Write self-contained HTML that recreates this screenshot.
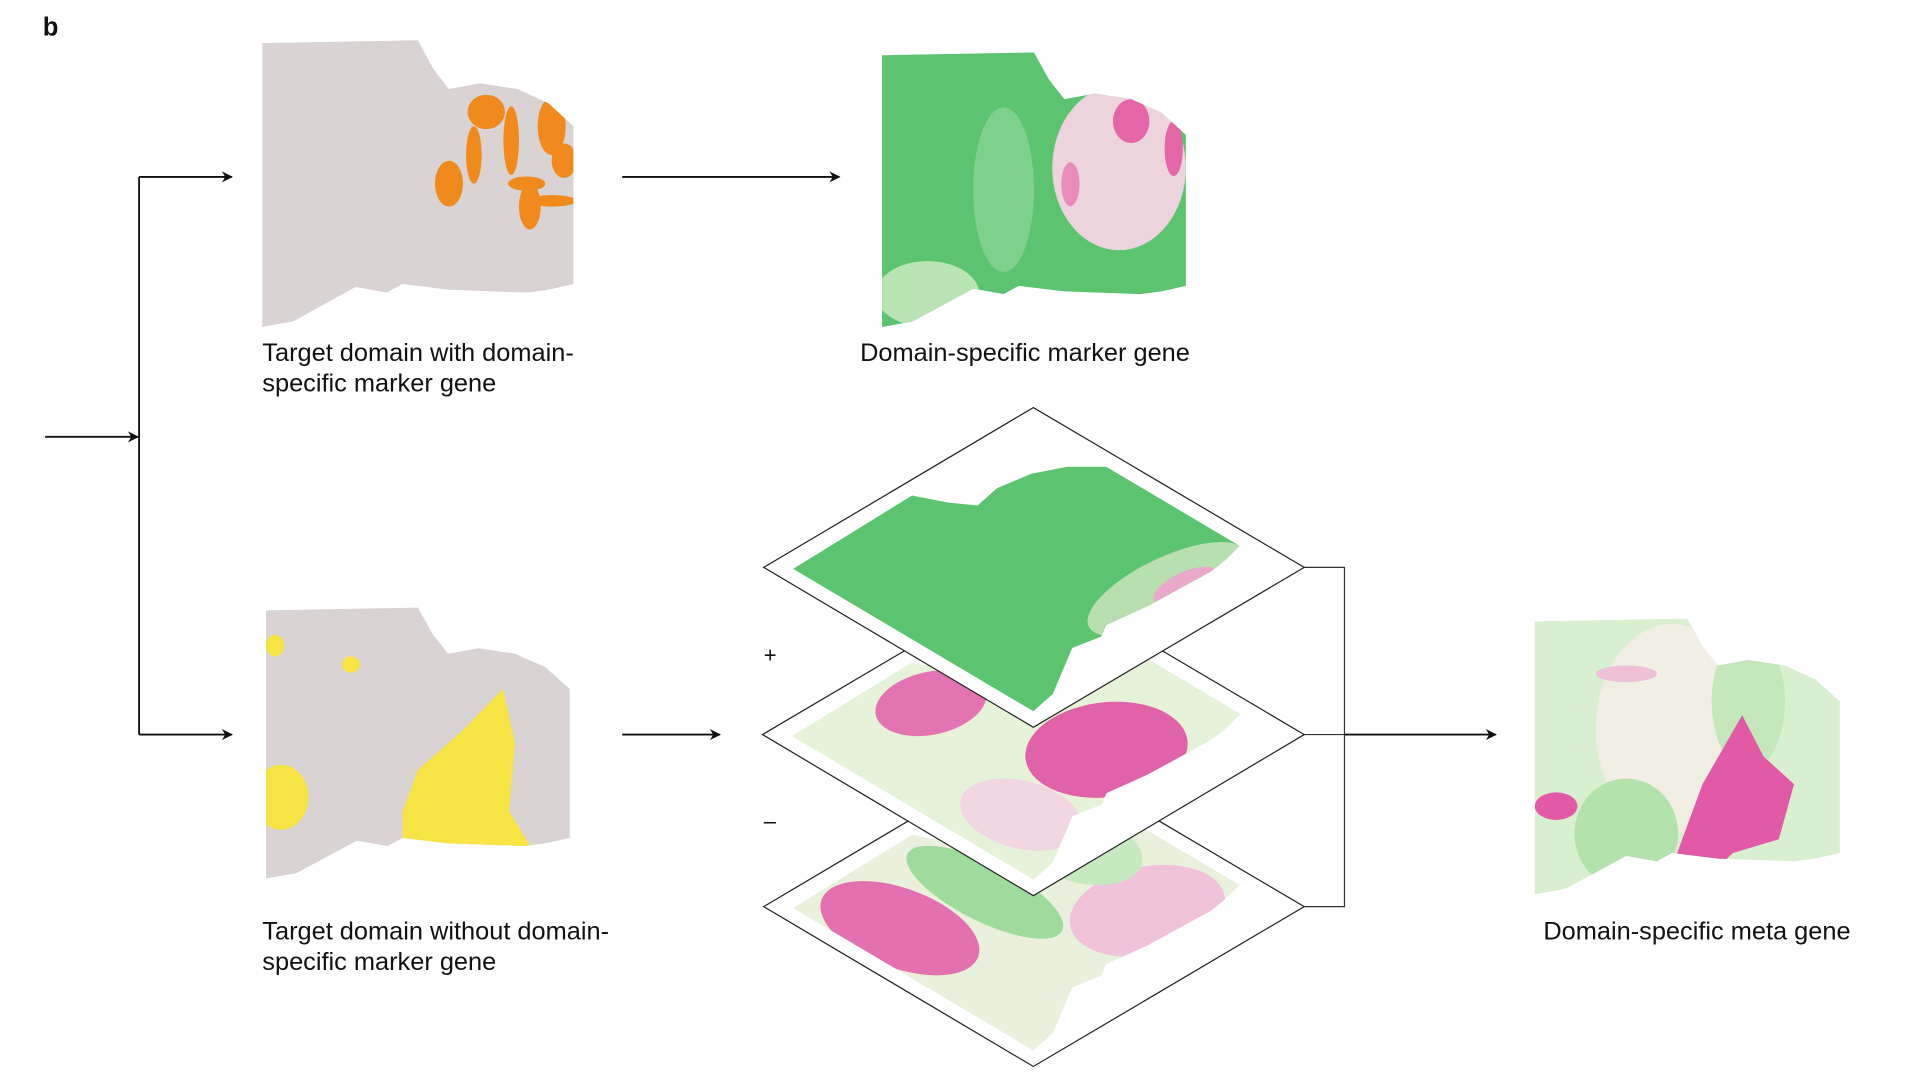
<!DOCTYPE html>
<html><head><meta charset="utf-8"><style>
html,body{margin:0;padding:0;background:#fff;}
svg{display:block;}
text{font-family:"Liberation Sans",Arial,sans-serif;fill:#111;}
</style></head><body>
<svg width="1913" height="1086" viewBox="0 0 1568 890" preserveAspectRatio="none" xmlns="http://www.w3.org/2000/svg">
<defs>
<marker id="ah" viewBox="0 0 10 10" refX="9" refY="5" markerWidth="9" markerHeight="9" markerUnits="userSpaceOnUse" orient="auto"><path d="M0,0 L10,5 L0,10 L3,5 z" fill="#111"/></marker>
<path id="brain" d="M0,0.01 L0.5,0 L0.55,0.1 L0.6,0.17 L0.7,0.15 L0.82,0.17 L0.92,0.22 L1,0.3 L1,0.85 L0.92,0.87 L0.85,0.88 L0.6,0.87 L0.45,0.85 L0.4,0.88 L0.3,0.86 L0.1,0.98 L0,1 Z"/>
<clipPath id="bc" clipPathUnits="userSpaceOnUse"><use href="#brain"/></clipPath>
</defs>
<rect width="1568" height="890" fill="#fff"/>
<text x="35" y="29" font-size="21" font-weight="bold">b</text>

<g stroke="#111" stroke-width="1.5" fill="none">
<line x1="37" y1="358" x2="113" y2="358" marker-end="url(#ah)"/>
<line x1="114" y1="145" x2="114" y2="602"/>
<line x1="114" y1="145" x2="190" y2="145" marker-end="url(#ah)"/>
<line x1="114" y1="602" x2="190" y2="602" marker-end="url(#ah)"/>
<line x1="510" y1="145" x2="688" y2="145" marker-end="url(#ah)"/>
<line x1="510" y1="602" x2="590" y2="602" marker-end="url(#ah)"/>
<line x1="1102" y1="602" x2="1226" y2="602" marker-end="url(#ah)"/>
</g>
<g stroke="#333" stroke-width="1" fill="none">
<polyline points="1069,465 1102,465 1102,743 1069,743"/>
<line x1="1069" y1="602" x2="1102" y2="602"/>
</g>

<g transform="translate(215,33) scale(255,235)">
<use href="#brain" fill="#d9d3d3"/>
<g clip-path="url(#bc)" fill="#f08a1c">
<ellipse cx="0.6" cy="0.5" rx="0.045" ry="0.08"/>
<ellipse cx="0.72" cy="0.25" rx="0.06" ry="0.06"/>
<ellipse cx="0.8" cy="0.35" rx="0.025" ry="0.12"/>
<ellipse cx="0.93" cy="0.3" rx="0.045" ry="0.1"/>
<ellipse cx="0.97" cy="0.42" rx="0.04" ry="0.06"/>
<ellipse cx="0.85" cy="0.5" rx="0.06" ry="0.025"/>
<ellipse cx="0.86" cy="0.58" rx="0.035" ry="0.08"/>
<ellipse cx="0.93" cy="0.56" rx="0.08" ry="0.02"/>
<ellipse cx="0.68" cy="0.4" rx="0.025" ry="0.1"/>
</g></g>
<text font-size="20.8"><tspan x="215" y="296">Target domain with domain-</tspan><tspan x="215" y="321">specific marker gene</tspan></text>

<g transform="translate(723,43) scale(249,225)">
<use href="#brain" fill="#5cc470"/>
<g clip-path="url(#bc)">
<ellipse cx="0.15" cy="0.88" rx="0.17" ry="0.12" fill="#b9e4b4"/>
<ellipse cx="0.4" cy="0.5" rx="0.1" ry="0.3" fill="#7fd08c"/>
<ellipse cx="0.78" cy="0.42" rx="0.22" ry="0.3" fill="#edd3dc"/>
<ellipse cx="0.82" cy="0.25" rx="0.06" ry="0.08" fill="#e565a9"/>
<ellipse cx="0.62" cy="0.48" rx="0.03" ry="0.08" fill="#e98cbc"/>
<ellipse cx="0.96" cy="0.35" rx="0.03" ry="0.1" fill="#e565a9"/>
</g></g>
<text x="705" y="296" font-size="20.8">Domain-specific marker gene</text>

<g transform="translate(218,498) scale(249,222)">
<use href="#brain" fill="#d9d3d3"/>
<g clip-path="url(#bc)" fill="#f6e545">
<polygon points="0.45,0.75 0.5,0.6 0.65,0.45 0.78,0.3 0.82,0.5 0.8,0.75 0.88,0.9 0.5,0.93 0.45,0.88"/>
<ellipse cx="0.05" cy="0.7" rx="0.09" ry="0.12"/>
<ellipse cx="0.03" cy="0.14" rx="0.03" ry="0.04"/>
<ellipse cx="0.28" cy="0.21" rx="0.03" ry="0.03"/>
</g></g>
<text font-size="20.8"><tspan x="215" y="770">Target domain without domain-</tspan><tspan x="215" y="795">specific marker gene</tspan></text>

<g>
<polygon points="626,743 847,612 1069,743 847,874" fill="#fff" stroke="#222" stroke-width="1"/>
<g transform="matrix(221,-131,221,131,626,743) translate(0.05,0.05) scale(0.9)">
<use href="#brain" fill="#e9f1dc"/>
<g clip-path="url(#bc)">
<ellipse cx="0.15" cy="0.3" rx="0.17" ry="0.28" fill="#e370b0"/>
<ellipse cx="0.45" cy="0.35" rx="0.12" ry="0.3" fill="#9edb9c"/>
<ellipse cx="0.72" cy="0.75" rx="0.25" ry="0.2" fill="#f0c3da"/>
<ellipse cx="0.8" cy="0.4" rx="0.15" ry="0.2" fill="#c7e9bf"/>
</g></g></g>
<g>
<polygon points="625,602 847,471 1069,602 847,734" fill="#fff" stroke="#222" stroke-width="1"/>
<g transform="matrix(222,-131,222,132,625,602) translate(0.05,0.05) scale(0.9)">
<use href="#brain" fill="#e6f3d8"/>
<g clip-path="url(#bc)">
<ellipse cx="0.4" cy="0.18" rx="0.18" ry="0.14" fill="#e373b2"/>
<ellipse cx="0.6" cy="0.7" rx="0.25" ry="0.22" fill="#e062a8"/>
<ellipse cx="0.2" cy="0.75" rx="0.15" ry="0.2" fill="#f2d6e2"/>
</g></g></g>
<g>
<polygon points="626,465 847,334 1069,465 847,596" fill="#fff" stroke="#222" stroke-width="1"/>
<g transform="matrix(221,-131,221,131,626,465) translate(0.05,0.05) scale(0.9)">
<use href="#brain" fill="#5cc470"/>
<g clip-path="url(#bc)">
<ellipse cx="0.7" cy="0.85" rx="0.3" ry="0.13" fill="#b7dfb0"/>
<ellipse cx="0.75" cy="0.88" rx="0.12" ry="0.06" fill="#e9a9cb"/>
</g></g></g>
<text x="626" y="543" font-size="18">+</text>
<text x="626" y="679" font-size="18">–</text>

<g transform="translate(1258,507) scale(250,226)">
<use href="#brain" fill="#d8f0cf"/>
<g clip-path="url(#bc)">
<ellipse cx="0.45" cy="0.4" rx="0.25" ry="0.38" fill="#f1eee4"/>
<ellipse cx="0.3" cy="0.78" rx="0.17" ry="0.2" fill="#b3e2ad"/>
<ellipse cx="0.7" cy="0.3" rx="0.12" ry="0.25" fill="#c4e8bc"/>
<polygon points="0.45,0.9 0.55,0.6 0.68,0.35 0.75,0.5 0.85,0.6 0.8,0.8 0.65,0.85 0.55,0.95" fill="#e25aa5"/>
<ellipse cx="0.07" cy="0.68" rx="0.07" ry="0.05" fill="#e25aa5"/>
<ellipse cx="0.3" cy="0.2" rx="0.1" ry="0.03" fill="#efc1d8"/>
</g></g>
<text x="1265" y="770" font-size="20.8">Domain-specific meta gene</text>
</svg>
</body></html>
